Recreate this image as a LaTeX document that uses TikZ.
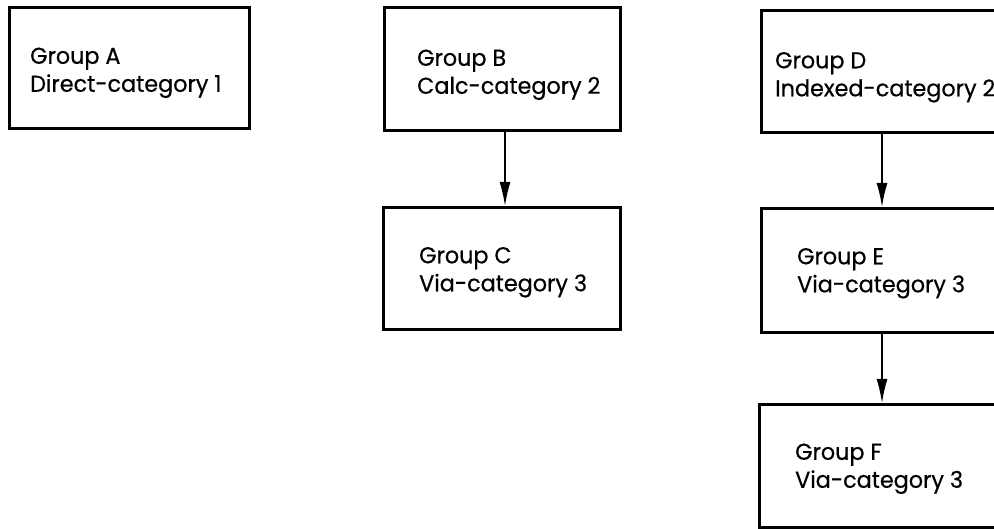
\documentclass[tikz,border=0pt]{standalone}
\usepackage{fontspec}
\setmainfont{Poppins}[FakeStretch=0.97,FakeBold=0.5]
\usetikzlibrary{arrows.meta}
\begin{document}
\begin{tikzpicture}[x=1pt,y=1pt,
  groupbox/.style={draw=black, line width=2.6pt, rectangle, inner sep=0pt, anchor=north west},
  grouptext/.style={anchor=west, align=left, inner sep=0pt, font=\fontsize{23}{28}\selectfont},
  flow/.style={draw=black, line width=1.5pt, -{Latex[length=24pt,width=11pt]}}]
  % page frame, top-left origin at (0,529)
  \useasboundingbox (0,0) rectangle (994,529);
  \clip (0,0) rectangle (994,529);

  % boxes (widths and heights in points; right column runs off the page)
  \node[groupbox, minimum width=240pt, minimum height=121pt] (A) at (8,523) {};
  \node[groupbox, minimum width=236pt, minimum height=123pt] (B) at (383,523) {};
  \node[groupbox, minimum width=237pt, minimum height=122pt] (C) at (382,323) {};
  \node[groupbox, minimum width=260pt, minimum height=122pt] (D) at (760,520) {};
  \node[groupbox, minimum width=260pt, minimum height=124pt] (E) at (760,322) {};
  \node[groupbox, minimum width=260pt, minimum height=123pt] (F) at (758,126) {};

  % labels
  \node[grouptext] (tA) at ([xshift=22pt,yshift=-5pt]A.west) {Group A\\Direct-category 1};
  \node[grouptext] (tB) at ([xshift=34pt,yshift=-6pt]B.west) {Group B\\Calc-category 2};
  \node[grouptext] (tC) at ([xshift=37pt,yshift=-4pt]C.west) {Group C\\Via-category 3};
  \node[grouptext] (tD) at ([xshift=15pt,yshift=-6pt]D.west) {Group D\\Indexed-category 2};
  \node[grouptext] (tE) at ([xshift=37pt,yshift=-3pt]E.west) {Group E\\Via-category 3};
  \node[grouptext] (tF) at ([xshift=37pt,yshift=-3pt]F.west) {Group F\\Via-category 3};

  % connectors
  \draw[flow] ([xshift=122pt]B.south west) -- ([xshift=123pt]C.north west);
  \draw[flow] ([xshift=122pt]D.south west) -- ([xshift=122pt]E.north west);
  \draw[flow] ([xshift=122pt]E.south west) -- ([xshift=124pt]F.north west);
\end{tikzpicture}
\end{document}
